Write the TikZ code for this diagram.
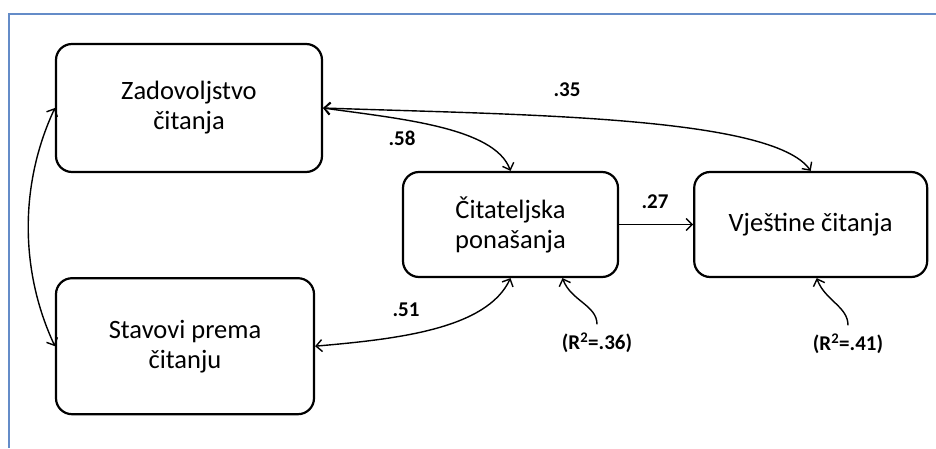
\documentclass[tikz,border=0pt]{standalone}
\usepackage{fontspec}
\setmainfont{Carlito}
\usetikzlibrary{positioning, arrows.meta}
\definecolor{framecol}{RGB}{100,140,200}

\begin{document}
\begin{tikzpicture}[x=1pt, y=1pt,
        var/.style={draw, line width=2.2pt, rounded corners=16pt, align=center,
            font=\fontsize{26.5}{30}\selectfont},
        coef/.style={font=\fontsize{21}{24}\selectfont\bfseries},
        reg/.style={line width=1.4pt, -{Straight Barb[length=6pt, width=12pt]}},
        corr/.style={line width=1.4pt, {Straight Barb[length=6pt, width=12pt]}-{Straight Barb[length=6pt, width=12pt]}}
    ]
            \useasboundingbox (0,0) rectangle (936,448);
            \draw[framecol, line width=1.5pt] (9,0) -- (9,434) -- (936,434);
            \node[var, minimum width=266pt, minimum height=128pt] (zad) at (189,340) {Zadovoljstvo\\čitanja};
            \node[var, minimum width=258pt, minimum height=136pt, below right=104pt and 0pt of zad.south west] (stav) {Stavovi prema\\čitanju};
            \node[var, minimum width=215pt, minimum height=105pt] (cit) at (510.5,223.5) {Čitateljska\\ponašanja};
            \node[var, minimum width=233pt, minimum height=105pt, right=74pt of cit] (vje) {Vještine čitanja};
            \node[coef] (r1) at (597,105) {(R\textsuperscript{2}=.36)};
            \node[coef] (r2) at (848,104) {(R\textsuperscript{2}=.41)};
            \node[coef] (c35) at (567,358) {.35};
            \node[coef] (c58) at (402,310) {.58};
            \node[coef] (c27) at (655,246) {.27};
            \node[coef] (c51) at (406,138) {.51};
            \draw[corr] (zad.west) to[out=245, in=115, looseness=0.9] (stav.west);
            \draw[corr] (zad.east) to[out=-2, in=125, out looseness=1, in looseness=0.35] (vje.north);
            \draw[corr] (zad.east) to[out=-8, in=110, in looseness=0.6] (cit.north);
            \draw[corr] (stav.east) to[out=5, in=245, in looseness=0.7] (cit.south);
            \draw[reg] (cit.east) -- (vje.west);
            \draw[reg, shorten <=5pt] (r1.north) to[out=90, in=-70] ([xshift=52pt]cit.south);
            \draw[reg, shorten <=5pt] (r2.north) to[out=90, in=-70] ([xshift=6pt]vje.south);
\end{tikzpicture}
\end{document}
